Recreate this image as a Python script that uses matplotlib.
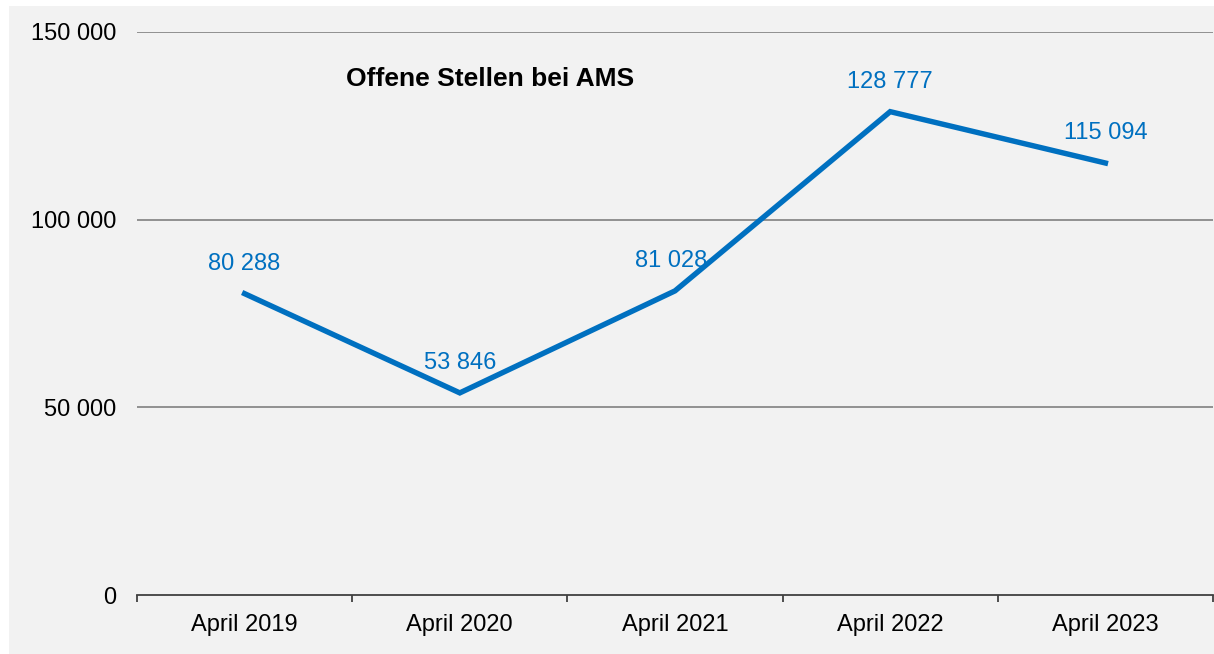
import numpy as np
import matplotlib.pyplot as plt
from matplotlib.patches import Rectangle

plt.rcParams['font.family'] = ['Liberation Sans', 'DejaVu Sans']

categories = ['April 2019', 'April 2020', 'April 2021', 'April 2022', 'April 2023']
values = [80288, 53846, 81028, 128777, 115094]
labels = ['80 288', '53 846', '81 028', '128 777', '115 094']
yticks = [0, 50000, 100000, 150000]
ytick_labels = ['0', '50 000', '100 000', '150 000']

blue = '#0070C0'

fig = plt.figure(figsize=(12.14, 6.54), dpi=100)
fig.patch.set_facecolor('white')
fig.patches.append(Rectangle((9 / 1214, 0), 1, 1 - 6 / 654, transform=fig.transFigure,
                             facecolor='#F2F2F2', edgecolor='none', zorder=-10))

ax = fig.add_axes([137 / 1214, 1 - 595 / 654, 1076 / 1214, 563 / 654])
ax.set_facecolor('none')

x = np.arange(len(categories))
ax.plot(x, values, color=blue, lw=3.9, solid_joinstyle='miter', zorder=3)

offsets = [0, 0, -4, 0, 0]
for xi, v, lab, dx in zip(x, values, labels, offsets):
    ax.annotate(lab, (xi, v), xytext=(dx * 0.72, 21.5), textcoords='offset points',
                ha='center', va='center', color=blue, fontsize=17)

ax.set_xlim(-0.5, len(categories) - 0.5)
ax.set_ylim(0, 150000)

# grid
for yt in yticks[1:]:
    ax.axhline(yt, color='#898989', lw=1.3, zorder=1)

ax.set_yticks(yticks)
ax.set_yticklabels(ytick_labels, fontsize=17)
ax.tick_params(axis='y', length=0, pad=15)

ax.set_xticks(np.arange(len(categories) + 1) - 0.5)
ax.set_xticklabels([])
ax.tick_params(axis='x', which='major', length=5, width=1.3, color='#404040', direction='out')
ax.set_xticks(x, minor=True)
ax.set_xticklabels(categories, minor=True, fontsize=17)
ax.tick_params(axis='x', which='minor', length=0, pad=13.5)

for s in ['left', 'right', 'top']:
    ax.spines[s].set_visible(False)
ax.spines['bottom'].set_color('#404040')
ax.spines['bottom'].set_linewidth(1.3)

ax.text(490 / 1214, 1 - 79 / 654, 'Offene Stellen bei AMS', transform=fig.transFigure,
        ha='center', va='center', fontsize=19, fontweight='bold')

fig.savefig('out.png', dpi=100)
